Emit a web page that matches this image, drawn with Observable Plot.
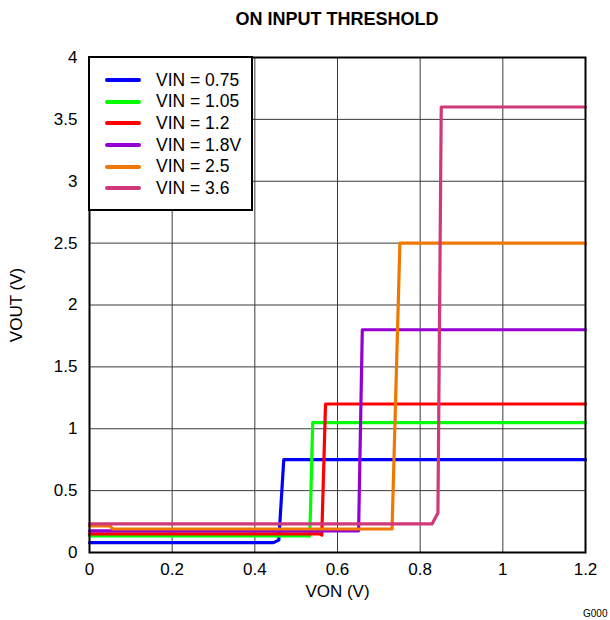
<!DOCTYPE html>
<html><head><meta charset="utf-8">
<script src="https://cdn.jsdelivr.net/npm/d3@7"></script>
<script src="https://cdn.jsdelivr.net/npm/@observablehq/plot@0.6"></script>
<style>
body{margin:0;background:#fff;font-family:"Liberation Sans",Arial,sans-serif;}
#wrap{position:relative;width:610px;height:620px;}
#title{position:absolute;left:64px;top:9px;width:546px;line-height:20px;text-align:center;font-weight:bold;font-size:18px;}
#chart{position:absolute;left:0;top:40px;}
#legend{position:absolute;left:88px;top:56px;width:161px;height:151px;border:2px solid #000;background:#fff;box-sizing:content-box;}
.row{position:absolute;left:15px;height:20px;font-size:17.5px;line-height:20px;white-space:nowrap;}
.sw{display:inline-block;width:36px;height:4px;border-radius:2px;vertical-align:middle;margin-right:15px;position:relative;top:-1px;}
</style></head>
<body><div id="wrap"><div id="title">ON INPUT THRESHOLD</div><div id="chart"></div><div id="legend"></div></div>
<script>
const seriesNames = ["VIN = 0.75","VIN = 1.05","VIN = 1.2","VIN = 1.8V","VIN = 2.5","VIN = 3.6"];
const seriesColors = ["#0000ff","#00ff00","#ff0000","#9400d3","#f07800","#d0387a"];
const xVin075 = [0, 0.445, 0.458, 0.470, 1.2];
const yVin075 = [0.08, 0.08, 0.10, 0.75, 0.75];
const xVin105 = [0, 0.533, 0.540, 1.2];
const yVin105 = [0.135, 0.135, 1.05, 1.05];
const xVin12 = [0, 0.556, 0.562, 0.571, 1.2];
const yVin12 = [0.15, 0.15, 0.14, 1.2, 1.2];
const xVin18 = [0, 0.651, 0.660, 1.2];
const yVin18 = [0.175, 0.175, 1.8, 1.8];
const xVin25 = [0, 0.05, 0.056, 0.732, 0.751, 1.2];
const yVin25 = [0.215, 0.215, 0.19, 0.19, 2.5, 2.5];
const xVin36 = [0, 0.829, 0.843, 0.851, 1.2];
const yVin36 = [0.232, 0.232, 0.32, 3.6, 3.6];
const xTicks = [0, 0.2, 0.4, 0.6, 0.8, 1, 1.2];
const yTicks = [0, 0.5, 1, 1.5, 2, 2.5, 3, 3.5, 4];

const xs = [xVin075, xVin105, xVin12, xVin18, xVin25, xVin36];
const ys = [yVin075, yVin105, yVin12, yVin18, yVin25, yVin36];
const data = [];
seriesNames.forEach((name, i) => xs[i].forEach((x, j) => data.push({series: name, x, y: ys[i][j]})));

const chart = Plot.plot({
  width: 610, height: 580,
  marginLeft: 89, marginRight: 25, marginTop: 17, marginBottom: 68,
  style: {fontFamily: '"Liberation Sans", Arial, sans-serif', fontSize: "17px", color: "#000", background: "#fff"},
  x: {domain: [0, 1.2], ticks: xTicks, tickFormat: d => String(d), label: "VON (V)", labelAnchor: "center", labelArrow: "none", labelOffset: 44, tickSize: 0, tickPadding: 10},
  y: {domain: [0, 4], ticks: yTicks, tickFormat: d => String(d), label: "VOUT (V)", labelAnchor: "center", labelArrow: "none", labelOffset: 80, tickSize: 0, tickPadding: 12},
  color: {domain: seriesNames, range: seriesColors},
  marks: [
    Plot.gridX(xTicks, {stroke: "#3a3a3a", strokeOpacity: 1, strokeWidth: 1}),
    Plot.gridY(yTicks, {stroke: "#3a3a3a", strokeOpacity: 1, strokeWidth: 1}),
    Plot.line(data, {x: "x", y: "y", z: "series", stroke: "series", strokeWidth: 3.2, strokeLinejoin: "round"}),
    Plot.frame({stroke: "#000", strokeWidth: 2}),
    Plot.text(["G000"], {frameAnchor: "bottom-right", dx: 22, dy: 64, fontSize: 10, text: d => d})
  ]
});
document.getElementById("chart").appendChild(chart);

const leg = document.getElementById("legend");
seriesNames.forEach((name, i) => {
  const r = document.createElement("div");
  r.className = "row";
  r.style.top = (11.5 + i * 21.7) + "px";
  r.innerHTML = `<span class="sw" style="background:${seriesColors[i]}"></span>${name}`;
  leg.appendChild(r);
});
</script></body></html>
